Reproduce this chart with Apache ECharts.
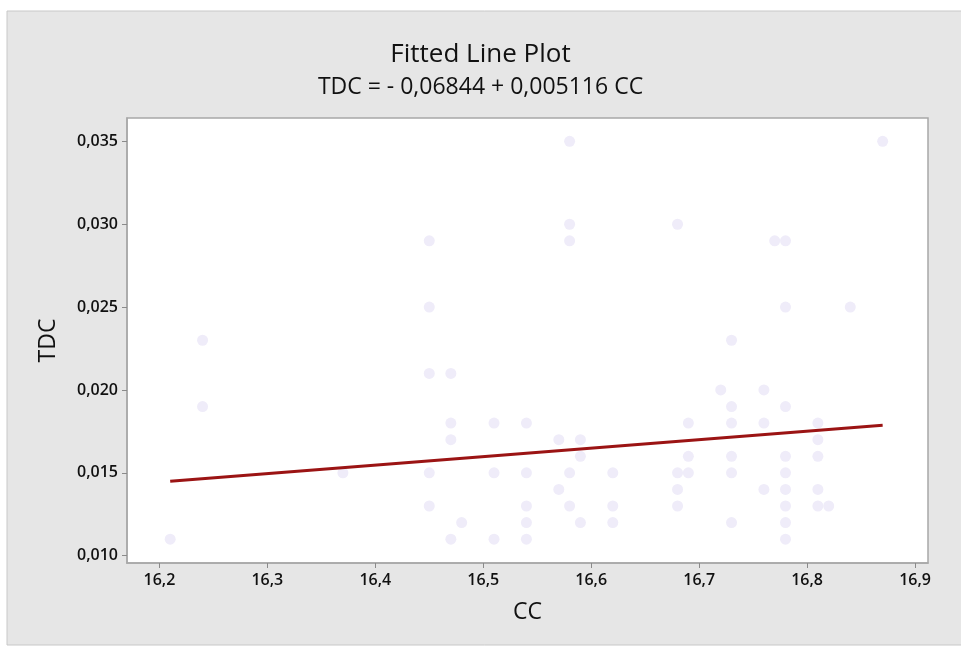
<!DOCTYPE html>
<html>
<head>
<meta charset="utf-8">
<script src="https://cdn.jsdelivr.net/npm/echarts@6/dist/echarts.min.js"></script>
<style>
html,body{margin:0;padding:0;background:#ffffff;}
#chart{width:961px;height:650px;}
</style>
</head>
<body>
<div id="chart"></div>
<script>
// Observed data (CC, TDC)
var ccValues = [16.21,16.24,16.24,16.37,16.45,16.45,16.45,16.45,16.45,16.47,16.47,16.47,16.47,16.48,16.51,16.51,16.51,16.54,16.54,16.54,16.54,16.54,16.57,16.57,16.58,16.58,16.58,16.58,16.58,16.59,16.59,16.59,16.62,16.62,16.62,16.68,16.68,16.68,16.68,16.69,16.69,16.69,16.72,16.73,16.73,16.73,16.73,16.73,16.73,16.76,16.76,16.76,16.77,16.78,16.78,16.78,16.78,16.78,16.78,16.78,16.78,16.78,16.81,16.81,16.81,16.81,16.81,16.82,16.84,16.87];
var tdcValues = [0.011,0.023,0.019,0.015,0.029,0.025,0.021,0.015,0.013,0.021,0.018,0.017,0.011,0.012,0.018,0.015,0.011,0.018,0.015,0.013,0.012,0.011,0.017,0.014,0.035,0.030,0.029,0.015,0.013,0.017,0.016,0.012,0.015,0.013,0.012,0.030,0.015,0.014,0.013,0.018,0.016,0.015,0.020,0.023,0.019,0.018,0.016,0.015,0.012,0.020,0.018,0.014,0.029,0.029,0.025,0.019,0.016,0.015,0.014,0.013,0.012,0.011,0.018,0.017,0.016,0.014,0.013,0.013,0.025,0.035];
// Fitted line endpoints: TDC = -0.06844 + 0.005116 CC
var fitX = [16.21, 16.87];
var fitY = [0.01449, 0.01787];
// Tick labels
var xTicks = [16.2,16.3,16.4,16.5,16.6,16.7,16.8,16.9];
var yTicks = [0.010,0.015,0.020,0.025,0.030,0.035];

var scatterData = ccValues.map(function(v,i){return [v, tdcValues[i]];});
var lineData = fitX.map(function(v,i){return [v, fitY[i]];});

var FONT = '"Open Sans", "Noto Sans", sans-serif';
var chart = echarts.init(document.getElementById('chart'), null, {renderer:'canvas'});
chart.setOption({
  animation:false,
  backgroundColor:'#ffffff',
  graphic:[{
    type:'rect', z:-10, silent:true,
    shape:{x:7,y:11,width:960,height:634},
    style:{fill:'#e6e6e6', stroke:'#c8c8c8', lineWidth:1}
  }],
  title:[{
    text:'Fitted Line Plot',
    left:'center', top:37,
    textStyle:{fontFamily:FONT, fontSize:26, fontWeight:500, color:'#111111'}
  },{
    text:'TDC = - 0,06844 + 0,005116 CC',
    left:'center', top:71,
    textStyle:{fontFamily:FONT, fontSize:23, fontWeight:'normal', color:'#111111'}
  }],
  grid:{
    left:127, right:33, top:118, bottom:87,
    show:true, backgroundColor:'#ffffff', borderColor:'#a8a8a8', borderWidth:1.5
  },
  xAxis:{
    type:'value', min:16.17, max:16.912,
    name:'CC', nameLocation:'middle', nameGap:38,
    nameTextStyle:{fontFamily:FONT, fontSize:23, color:'#111111'},
    splitLine:{show:false},
    axisLine:{show:true, onZero:false, lineStyle:{color:'#a8a8a8', width:1.5}},
    axisTick:{show:true, inside:false, length:5, customValues:xTicks, lineStyle:{color:'#8a8a8a'}},
    axisLabel:{customValues:xTicks, margin:9, fontFamily:FONT, fontSize:16, fontWeight:600, color:'#111111',
      formatter:function(v){return v.toFixed(1).replace('.',',');}}
  },
  yAxis:{
    type:'value', min:0.00956, max:0.03641,
    name:'TDC', nameLocation:'middle', nameGap:67, nameRotate:90,
    nameTextStyle:{fontFamily:FONT, fontSize:23, color:'#111111'},
    splitLine:{show:false},
    axisLine:{show:true, onZero:false, lineStyle:{color:'#a8a8a8', width:1.5}},
    axisTick:{show:true, inside:false, length:5, customValues:yTicks, lineStyle:{color:'#8a8a8a'}},
    axisLabel:{customValues:yTicks, margin:9, fontFamily:FONT, fontSize:16, fontWeight:600, color:'#111111',
      formatter:function(v){return v.toFixed(3).replace('.',',');}}
  },
  series:[{
    type:'scatter', data:scatterData, symbol:'circle', symbolSize:11,
    itemStyle:{color:'#efecf9', opacity:1}, z:2
  },{
    type:'line', data:lineData, showSymbol:false, symbol:'none',
    lineStyle:{color:'#9b1414', width:3}, z:3
  }]
});
</script>
</body>
</html>
